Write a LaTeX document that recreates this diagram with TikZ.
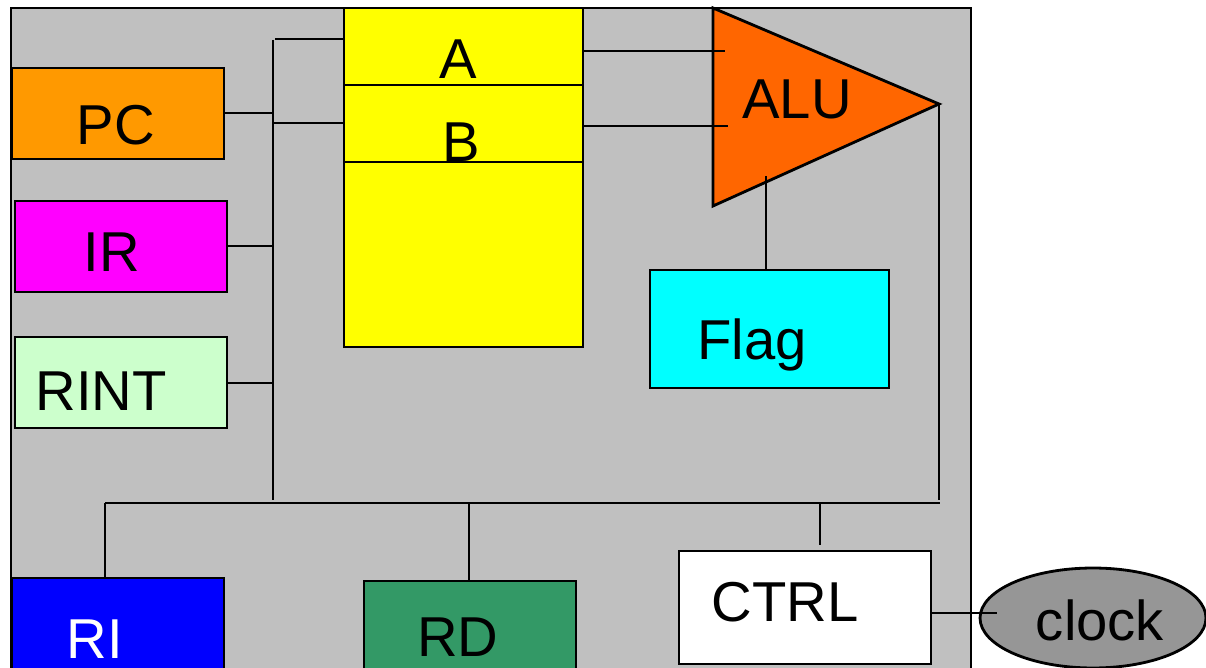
\documentclass[tikz,border=0pt]{standalone}
\usepackage{fontspec}
\setmainfont{Liberation Sans}
\usetikzlibrary{shapes.geometric}
\definecolor{bggray}{HTML}{C0C0C0}
\definecolor{pcorange}{HTML}{FF9900}
\definecolor{irmag}{HTML}{FF00FF}
\definecolor{rintgreen}{HTML}{CCFFCC}
\definecolor{regyellow}{HTML}{FFFF00}
\definecolor{aluorange}{HTML}{FF6600}
\definecolor{flagcyan}{HTML}{00FFFF}
\definecolor{riblue}{HTML}{0000FF}
\definecolor{rdgreen}{HTML}{339966}
\definecolor{clockgray}{HTML}{969696}
\begin{document}
\begin{tikzpicture}[x=0.02cm,y=-0.02cm,
  box/.style={draw=black,line width=1.6pt,inner sep=0pt,outer sep=0pt,rectangle},
  lbl/.style={anchor=base,inner sep=0pt,font=\fontsize{32}{36}\selectfont},
  wire/.style={draw=black,line width=1.6pt}]
\useasboundingbox (0,0) rectangle (1206,668);
% CPU background
\fill[bggray] (11,8) rectangle (971,720);
\draw[line width=1.6pt] (11,720) -- (11,8) -- (971,8) -- (971,720);
% boxes
\node[box,fill=pcorange,minimum width=4.24cm,minimum height=1.82cm] (PC) at (118,113.5) {};
\node[box,fill=irmag,minimum width=4.24cm,minimum height=1.82cm] (IR) at (121,246.5) {};
\node[box,fill=rintgreen,minimum width=4.24cm,minimum height=1.82cm] (RINT) at (121,382.5) {};
\node[box,fill=regyellow,minimum width=4.78cm,minimum height=1.54cm] (regA) at (463.5,46.5) {};
\node[box,fill=regyellow,minimum width=4.78cm,minimum height=1.54cm] (regB) at (463.5,123.5) {};
\node[box,fill=regyellow,minimum width=4.78cm,minimum height=3.7cm] (regC) at (463.5,254.5) {};
\node[box,fill=flagcyan,minimum width=4.78cm,minimum height=2.36cm] (Flag) at (769.5,329) {};
\node[box,fill=riblue,minimum width=4.24cm,minimum height=2.4cm] (RI) at (118,638) {};
\node[box,fill=rdgreen,minimum width=4.24cm,minimum height=2.38cm] (RD) at (470,640.5) {};
\node[box,fill=white,minimum width=5.04cm,minimum height=2.26cm] (CTRL) at (805,607.5) {};
\node[draw=black,line width=1.6pt,ellipse,fill=clockgray,inner sep=0pt,minimum width=4.52cm,minimum height=2.0cm] (clock) at (1093,618) {};
% ALU triangle
\coordinate (aluT) at (713,8);
\coordinate (aluB) at (713,206);
\coordinate (aluP) at (939,104);
\filldraw[fill=aluorange,draw=black,line width=1.6pt,line join=miter] (aluT) -- (aluP) -- (aluB) -- cycle;
% labels
\node[lbl] (tPC) at (116,145) {PC};
\node[lbl] (tIR) at (112,272) {IR};
\node[lbl] (tRINT) at (101,411) {RINT};
\node[lbl] (tA) at (458,79) {A};
\node[lbl] (tB) at (461,162) {B};
\node[lbl] (tALU) at (797,119) {ALU};
\node[lbl] (tFlag) at (752,360) {Flag};
\node[lbl,text=white] (tRI) at (95,658) {RI};
\node[lbl] (tRD) at (458,656) {RD};
\node[lbl] (tCTRL) at (785,621) {CTRL};
\node[lbl] (tclock) at (1100,640) {clock};
% bus coordinates
\coordinate (busTop) at (273,40);
\coordinate (busBot) at (273,500);
\coordinate (hbL) at (105,503);
\coordinate (hbR) at (940,503);
\coordinate (aIn) at (725,51);
\coordinate (bIn) at (728,126);
\coordinate (aluF) at (766,176);
\coordinate (aluDown) at (939,500);
\coordinate (ctrlUp) at (820,545);
\coordinate (clockIn) at (997,613);
% wires
\draw[wire] (busTop) -- (busBot);
\draw[wire] (275,39) -- (regA.west |- 0,39);
\draw[wire] (273,123) -- (regB.west |- 0,123);
\draw[wire] (PC.east |- 0,113) -- (273,113);
\draw[wire] (IR.east |- 0,246) -- (273,246);
\draw[wire] (RINT.east |- 0,383) -- (273,383);
\draw[wire] (regA.east |- 0,51) -- (aIn);
\draw[wire] (regB.east |- 0,126) -- (bIn);
\draw[wire] (aluF) -- (Flag.north -| aluF);
\draw[wire] (aluP) -- (aluDown);
\draw[wire] (hbL) -- (hbR);
\draw[wire] (hbL) -- (RI.north -| hbL);
\draw[wire] (469,503) -- (RD.north -| 469,0);
\draw[wire] (820,503) -- (ctrlUp);
\draw[wire] (CTRL.east |- 0,613) -- (clockIn);
\end{tikzpicture}
\end{document}
